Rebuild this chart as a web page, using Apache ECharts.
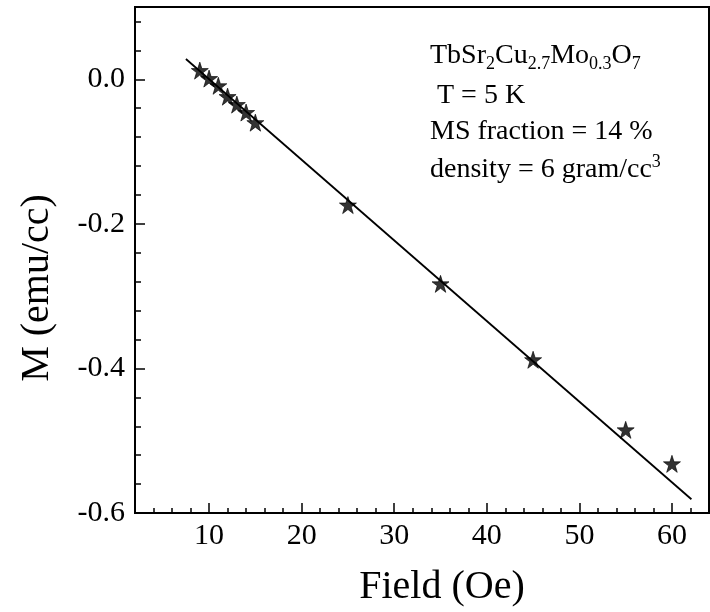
<!DOCTYPE html>
<html><head><meta charset="utf-8">
<script src="https://cdn.jsdelivr.net/npm/echarts@6/dist/echarts.min.js"></script>
<style>html,body{margin:0;padding:0;background:#fff}#c{width:710px;height:612px}</style>
</head><body><div id="c"></div>
<script>
const fieldOe = [9, 10, 11, 12, 13, 14, 15, 25, 35, 45, 55, 60];
const magnetization = [0.012, 0.001, -0.009, -0.024, -0.035, -0.046, -0.060, -0.174, -0.283, -0.388, -0.485, -0.532];
const fitField = [7.5, 62.1];
const fitM = [0.028, -0.581];
const xTickLabels = [10, 20, 30, 40, 50, 60];
const yTickLabels = [-0.6, -0.4, -0.2, 0.0];

const FONT = 'Liberation Serif';
const BLACK = '#000';
const STAR = 'path://M50,0 L61.8,35.5 L99,35.5 L68.9,57.4 L80.4,93 L50,71 L19.6,93 L31.1,57.4 L1,35.5 L38.2,35.5 Z';

const chart = echarts.init(document.getElementById('c'));
const tickStyle = {color: BLACK, width: 1.5};
chart.setOption({
  animation: false,
  backgroundColor: '#fff',
  grid: {left: 135, right: 1, top: 7, bottom: 97, show: true, borderColor: BLACK, borderWidth: 2, backgroundColor: 'transparent'},
  xAxis: [
    {type: 'value', min: 2, max: 64, interval: 2,
     axisLine: {onZero: false, lineStyle: {color: BLACK, width: 2}},
     axisTick: {inside: true, length: 5, lineStyle: tickStyle},
     axisLabel: {show: false}, splitLine: {show: false}},
    {type: 'value', position: 'bottom', min: 2, max: 64,
     axisLine: {show: false, onZero: false},
     axisTick: {inside: true, length: 10, customValues: xTickLabels, lineStyle: tickStyle},
     axisLabel: {customValues: xTickLabels, fontFamily: FONT, fontSize: 30, color: BLACK, margin: 8},
     splitLine: {show: false},
     name: 'Field (Oe)', nameLocation: 'middle', nameGap: 54,
     nameTextStyle: {fontFamily: FONT, fontSize: 40, color: BLACK, padding: [0, 0, 0, 40]}}
  ],
  yAxis: [
    {type: 'value', min: -0.6, max: 0.1, interval: 0.04,
     axisLine: {onZero: false, lineStyle: {color: BLACK, width: 2}},
     axisTick: {inside: true, length: 6, lineStyle: tickStyle},
     axisLabel: {show: false}, splitLine: {show: false}},
    {type: 'value', position: 'left', min: -0.6, max: 0.1,
     axisLine: {show: false, onZero: false},
     axisTick: {inside: true, length: 10, customValues: yTickLabels, lineStyle: tickStyle},
     axisLabel: {customValues: yTickLabels, fontFamily: FONT, fontSize: 30, color: BLACK, margin: 10,
                 formatter: v => v.toFixed(1)},
     splitLine: {show: false},
     name: 'M (emu/cc)', nameLocation: 'middle', nameGap: 78, nameRotate: 90,
     nameTextStyle: {fontFamily: FONT, fontSize: 40, color: BLACK, padding: [0, 56, 0, 0]}}
  ],
  series: [
    {type: 'line', xAxisIndex: 0, yAxisIndex: 0, data: fitField.map((x, i) => [x, fitM[i]]),
     symbol: 'none', lineStyle: {color: BLACK, width: 1.8}, z: 2},
    {type: 'scatter', xAxisIndex: 0, yAxisIndex: 0, data: fieldOe.map((x, i) => [x, magnetization[i]]),
     symbol: STAR, symbolSize: 17, itemStyle: {color: BLACK, borderColor: BLACK, borderWidth: 0.8}, z: 3}
  ],
  graphic: [
    {type: 'text', left: 430, top: 42, style: {
      text: '{n|TbSr}{s|2}{n|Cu}{s|2.7}{n|Mo}{s|0.3}{n|O}{s|7}',
      rich: {n: {fontFamily: FONT, fontSize: 28, fill: BLACK, lineHeight: 34},
             s: {fontFamily: FONT, fontSize: 18, fill: BLACK, padding: [16, 0, 0, 0]}}}},
    {type: 'text', left: 430, top: 82, style: {text: ' T = 5 K', fontFamily: FONT, fontSize: 28, fill: BLACK}},
    {type: 'text', left: 430, top: 118, style: {text: 'MS fraction = 14 %', fontFamily: FONT, fontSize: 28, fill: BLACK}},
    {type: 'text', left: 430, top: 153, style: {
      text: '{n|density = 6 gram/cc}{p|3}',
      rich: {n: {fontFamily: FONT, fontSize: 28, fill: BLACK, lineHeight: 34},
             p: {fontFamily: FONT, fontSize: 18, fill: BLACK, padding: [0, 0, 16, 0]}}}}
  ]
});
</script></body></html>
